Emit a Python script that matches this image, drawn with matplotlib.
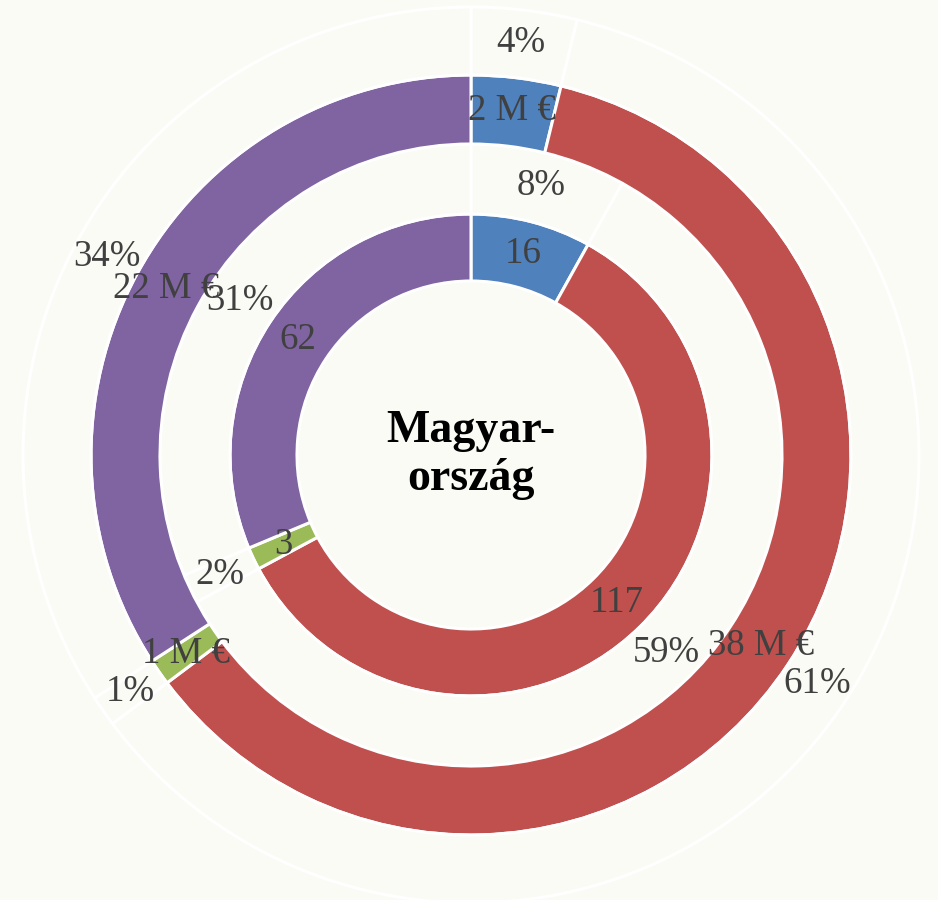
import numpy as np
import matplotlib
matplotlib.use("Agg")
import matplotlib.pyplot as plt

# Data
categories = ["A", "B", "C", "D"]
inner_counts = [16, 117, 3, 62]          # inner ring (counts)
outer_meur = [2.4, 38.4, 0.7, 21.5]      # outer ring (M €)
colors = ["#4F81BD", "#C0504D", "#9BBB59", "#8064A2"]
center_title = "Magyar-\nország"

BG = "#FAFBF5"
W, H = 938, 900
cx, cy = 471, H - 455

fig = plt.figure(figsize=(W / 100, H / 100), dpi=100, facecolor=BG)
ax = fig.add_axes([0, 0, 1, 1])
ax.set_facecolor(BG)
ax.axis("off")

lw = 2.2
# rings: (values, radius, width, colored?)
rings = [
    (inner_counts, 241, 67, True),
    (inner_counts, 311, 70, False),
    (outer_meur, 380, 69, True),
    (outer_meur, 448, 68, False),
]
for vals, r, w, colored in rings:
    fc = colors if colored else [BG] * len(vals)
    ax.pie(vals, radius=r, center=(cx, cy), colors=fc, startangle=90,
           counterclock=False,
           wedgeprops=dict(width=w, edgecolor="white", linewidth=lw))

ax.set_xlim(0, W)
ax.set_ylim(0, H)
ax.set_aspect("equal")

font = "Liberation Serif"
tcol = "#404040"
fs = 26.5


def mid_angles(vals):
    vals = np.asarray(vals, dtype=float)
    cum = np.cumsum(vals) - vals / 2
    frac = cum / vals.sum()
    # clockwise from top
    return np.deg2rad(90 - frac * 360)


def place(vals, labels, r):
    for a, lab in zip(mid_angles(vals), labels):
        ax.text(cx + r * np.cos(a), cy + r * np.sin(a), lab, ha="center",
                va="center", fontsize=fs, color=tcol, family=font)


tot_in = sum(inner_counts)
tot_out = sum(outer_meur)
place(inner_counts, [f"{v}" for v in inner_counts], 208)
place(inner_counts, [f"{round(v / tot_in * 100)}%" for v in inner_counts], 278)
place(outer_meur, [f"{round(v)} M €" for v in outer_meur], 347)
place(outer_meur, [f"{round(v / tot_out * 100)}%" for v in outer_meur], 415)

ax.text(cx, cy, center_title, ha="center", va="center", fontsize=33,
        fontweight="bold", family=font, color="black", linespacing=1.2)

fig.savefig("out.png", dpi=100, facecolor=BG)
